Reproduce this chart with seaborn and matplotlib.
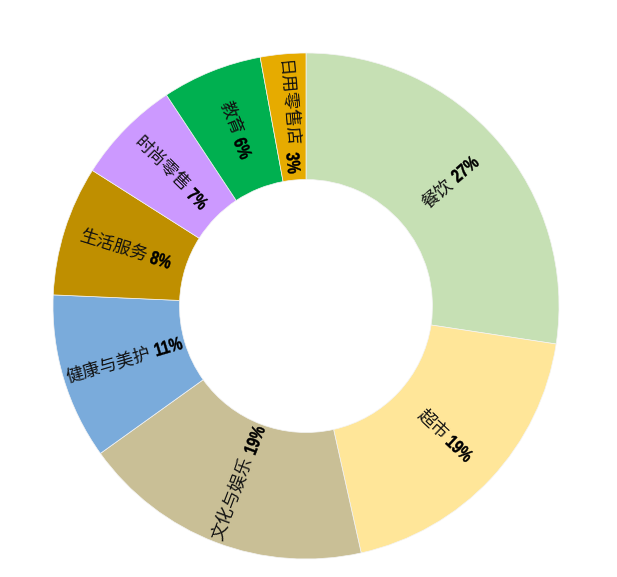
import numpy as np
import matplotlib
matplotlib.use("Agg")
import matplotlib.pyplot as plt
import matplotlib.transforms as mtransforms
from matplotlib.textpath import TextPath
from matplotlib.patches import PathPatch
from matplotlib.font_manager import FontProperties
import seaborn as sns

categories = ["餐饮", "超市", "文化与娱乐", "健康与美护", "生活服务", "时尚零售", "教育", "日用零售店"]
values = [27.4, 19.1, 18.6, 10.6, 8.3, 6.7, 6.4, 2.9]
pct_labels = ["27%", "19%", "19%", "11%", "8%", "7%", "6%", "3%"]
colors = ["#c6e0b4", "#ffe699", "#c9bf96", "#7aabdb", "#bf8f00", "#cc99ff", "#00b050", "#e6ab00"]
title = "商户类型分布占比"

sns.set_theme(style="white")
plt.rcParams["font.family"] = ["Noto Sans CJK SC", "DejaVu Sans"]

W, H = 617, 577
dpi = 100
fig = plt.figure(figsize=(W / dpi, H / dpi), dpi=dpi)
cx, cy, R = 306, 306, 253
lim = 1.05
size = 2 * lim * R
ax = fig.add_axes([(cx - size / 2) / W, (H - cy - size / 2) / H, size / W, size / H])

wedges, _ = ax.pie(values, colors=colors, startangle=90, counterclock=False, radius=1.0,
                   wedgeprops=dict(width=0.5, edgecolor="#f4f4f4", linewidth=0.5))
ax.set_xlim(-lim, lim)
ax.set_ylim(-lim, lim)
ax.set_aspect("equal")
ax.axis("off")

fig.text(cx / W, 1 - 27 / H, title, color="white", ha="center", va="center", fontsize=13)

renderer = fig.canvas.get_renderer()
name_fs = 12.6
pct_fs = 13.5
squeeze = 0.78
gap = 5
r_lab = 0.75
px = dpi / 72.0
pct_prop = FontProperties(family="Liberation Sans", weight="bold")

for w, name, pct in zip(wedges, categories, pct_labels):
    ang = (w.theta1 + w.theta2) / 2.0
    a = np.deg2rad(ang)
    x, y = r_lab * np.cos(a), r_lab * np.sin(a)
    a_norm = (ang + 180) % 360 - 180
    rot = a_norm if -90 <= a_norm <= 90 else a_norm - 180
    t1 = ax.text(x, y, name, fontsize=name_fs, ha="center", va="center", color="#111111")
    w1 = t1.get_window_extent(renderer).width
    tp = TextPath((0, 0), pct, size=pct_fs, prop=pct_prop)
    bb = tp.get_extents()
    w2 = bb.width * squeeze * px
    tot = w1 + gap + w2
    o1 = -tot / 2 + w1 / 2
    o2 = tot / 2 - w2 / 2
    ux, uy = np.cos(np.deg2rad(rot)), np.sin(np.deg2rad(rot))
    tr = mtransforms.offset_copy(ax.transData, fig=fig, x=o1 * ux, y=o1 * uy, units="dots")
    t1.set_transform(tr)
    t1.set_rotation(rot)
    t1.set_rotation_mode("anchor")
    ptr = (mtransforms.Affine2D()
           .translate(-bb.x0 - bb.width / 2, -bb.y0 - bb.height / 2 + 0.5)
           .scale(squeeze * px, px)
           .translate(o2, 0)
           .rotate_deg(rot)
           + mtransforms.ScaledTranslation(x, y, ax.transData))
    patch = PathPatch(tp, transform=ptr, facecolor="black", edgecolor="black", linewidth=0.3)
    patch.set_clip_on(False)
    ax.add_patch(patch)

fig.savefig("out.png", dpi=dpi, facecolor="white")
